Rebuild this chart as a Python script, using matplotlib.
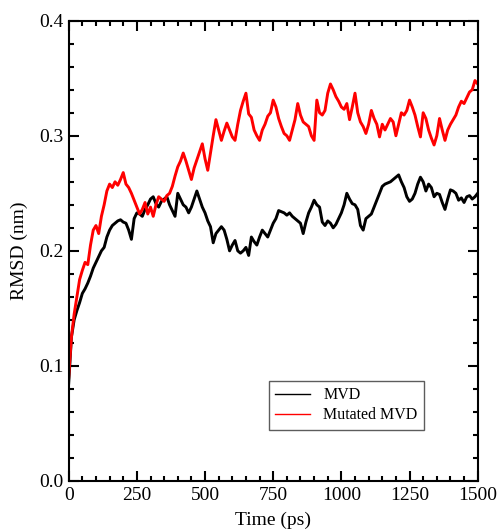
import numpy as np
import matplotlib
matplotlib.use("Agg")
import matplotlib.pyplot as plt

time_ps = np.arange(0, 1501, 10)

mvd = [0.085, 0.125, 0.14, 0.148, 0.155, 0.163, 0.167, 0.172, 0.178, 0.185,
       0.19, 0.195, 0.2, 0.203, 0.212, 0.218, 0.222, 0.224, 0.226, 0.227,
       0.225, 0.224, 0.218, 0.21, 0.228, 0.233, 0.232, 0.23, 0.236, 0.24,
       0.245, 0.247, 0.241, 0.238, 0.243, 0.245, 0.247, 0.24, 0.235, 0.23,
       0.25, 0.245, 0.24, 0.238, 0.233, 0.238, 0.245, 0.252, 0.245, 0.238,
       0.233, 0.226, 0.221, 0.207, 0.215, 0.218, 0.221, 0.218, 0.21, 0.2,
       0.205, 0.209, 0.2, 0.198, 0.2, 0.203, 0.196, 0.212, 0.208, 0.205,
       0.212, 0.218, 0.215, 0.212, 0.218, 0.224, 0.228, 0.235, 0.234, 0.233,
       0.231, 0.233, 0.23, 0.228, 0.226, 0.224, 0.215, 0.225, 0.233, 0.238,
       0.244, 0.24, 0.238, 0.225, 0.222, 0.226, 0.224, 0.22, 0.223, 0.228,
       0.233, 0.24, 0.25, 0.245, 0.241, 0.24, 0.236, 0.222, 0.218, 0.228,
       0.23, 0.232, 0.238, 0.244, 0.25, 0.256, 0.258, 0.259, 0.26, 0.262,
       0.264, 0.266, 0.26, 0.255, 0.247, 0.243, 0.245, 0.25, 0.258, 0.264,
       0.26, 0.252, 0.258, 0.255, 0.247, 0.25, 0.249, 0.242, 0.236, 0.245,
       0.253, 0.252, 0.25, 0.244, 0.246, 0.242, 0.247, 0.248, 0.245, 0.247,
       0.25]

mutated_mvd = [0.09, 0.125, 0.145, 0.16, 0.175, 0.183, 0.19, 0.188, 0.205, 0.218,
               0.222, 0.215, 0.23, 0.24, 0.252, 0.258, 0.255, 0.26, 0.257, 0.262,
               0.268, 0.258, 0.255, 0.25, 0.244, 0.238, 0.232, 0.236, 0.242, 0.232,
               0.238, 0.23, 0.24, 0.247, 0.245, 0.243, 0.248, 0.25, 0.256, 0.265,
               0.273, 0.278, 0.285, 0.278, 0.27, 0.262, 0.272, 0.279, 0.286, 0.293,
               0.28, 0.27, 0.285, 0.3, 0.314, 0.305, 0.296, 0.304, 0.311, 0.305,
               0.299, 0.296, 0.31, 0.322, 0.33, 0.337, 0.319, 0.316, 0.305, 0.3,
               0.296, 0.305, 0.31, 0.317, 0.32, 0.331, 0.325, 0.315, 0.308, 0.302,
               0.3, 0.296, 0.305, 0.314, 0.328, 0.318, 0.312, 0.31, 0.308, 0.3,
               0.296, 0.331, 0.32, 0.318, 0.322, 0.337, 0.345, 0.34, 0.334, 0.33,
               0.325, 0.323, 0.328, 0.314, 0.325, 0.337, 0.32, 0.312, 0.308, 0.302,
               0.31, 0.322, 0.315, 0.31, 0.299, 0.31, 0.305, 0.31, 0.315, 0.312,
               0.3, 0.31, 0.32, 0.318, 0.322, 0.331, 0.325, 0.318, 0.308, 0.299,
               0.32, 0.315, 0.305, 0.298, 0.292, 0.3, 0.315, 0.305, 0.296, 0.305,
               0.31, 0.314, 0.318, 0.325, 0.33, 0.328, 0.333, 0.338, 0.34, 0.348,
               0.345]

series_labels = ["MVD", "Mutated MVD"]
x_ticks = [0, 250, 500, 750, 1000, 1250, 1500]
y_ticks = [0.0, 0.1, 0.2, 0.3, 0.4]

plt.rcParams['font.family'] = ['Liberation Serif', 'DejaVu Serif']

fig = plt.figure(figsize=(5, 5.32), dpi=100)
ax = fig.add_axes([0.1374, 0.0959, 0.818, 0.8652])

ax.plot(time_ps, mvd, color='black', lw=2.1, label=series_labels[0])
ax.plot(time_ps, mutated_mvd, color='#ff0000', lw=2.1, label=series_labels[1])

ax.set_xlim(0, 1500)
ax.set_ylim(0, 0.4)
ax.set_xticks(x_ticks)
ax.set_xticklabels([str(v) for v in x_ticks])
ax.set_yticks(y_ticks)
ax.set_yticklabels([f"{v:.1f}" for v in y_ticks])
ax.set_xticks(np.arange(0, 1501, 50), minor=True)
ax.set_yticks(np.arange(0, 0.401, 0.02), minor=True)

ax.tick_params(which='both', direction='in', top=True, right=True, width=1.5,
               labelsize=14, pad=4)
ax.tick_params(which='major', length=7.5)
ax.tick_params(which='minor', length=3.8)
for s in ax.spines.values():
    s.set_linewidth(1.5)

ax.set_xlabel("Time (ps)", fontsize=14, labelpad=6)
ax.set_ylabel("RMSD (nm)", fontsize=14, labelpad=8)

leg = ax.legend(loc='lower left', bbox_to_anchor=(0.47, 0.094), fontsize=11.5,
                frameon=True, fancybox=False, edgecolor='#333333',
                handlelength=2.2, borderpad=0.4, labelspacing=0.25,
                handletextpad=0.8)
leg.get_frame().set_linewidth(1.0)
for line in leg.get_lines():
    line.set_linewidth(1.0)

fig.savefig("out.png", dpi=100)
